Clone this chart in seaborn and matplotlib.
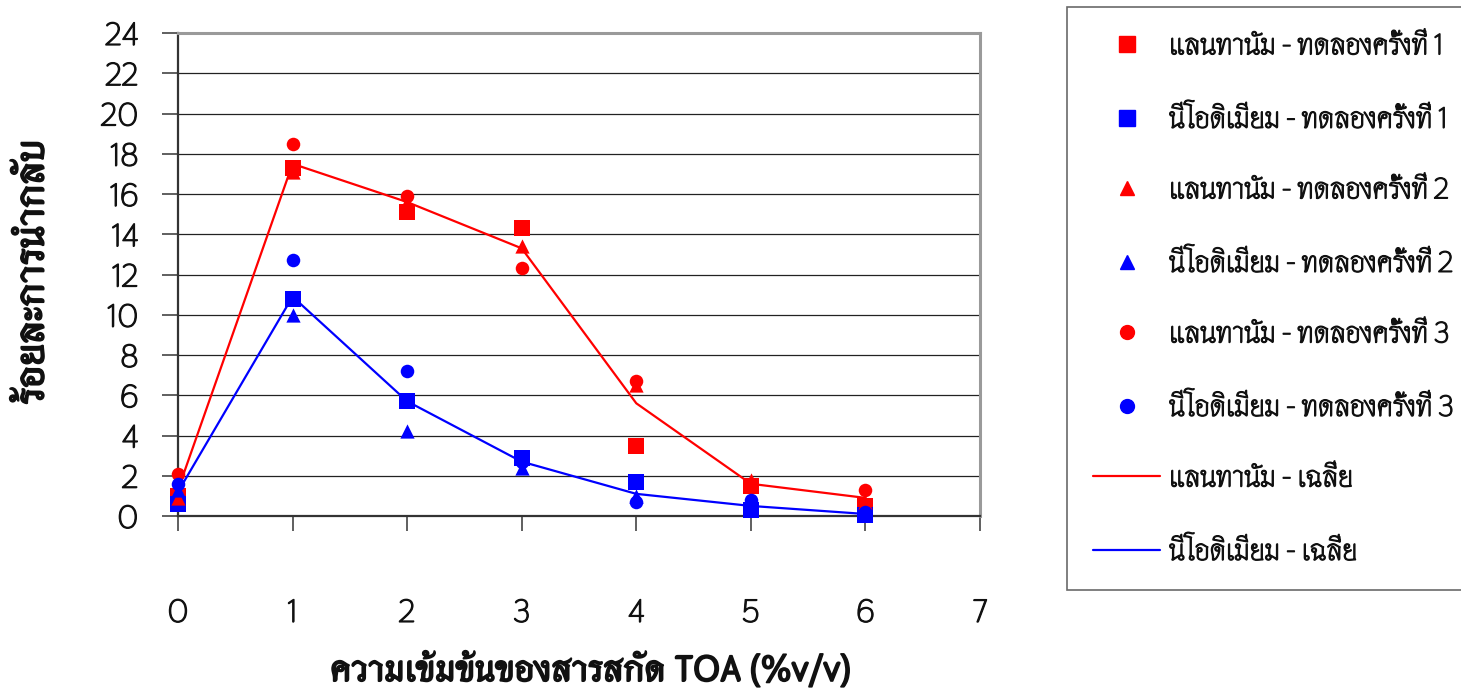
import matplotlib
matplotlib.use("Agg")
import matplotlib.pyplot as plt
import matplotlib.patheffects as pe
from matplotlib.lines import Line2D
import numpy as np
import pandas as pd
import seaborn as sns

# TOA concentration (%v/v)
toa = [0, 1, 2, 3, 4, 5, 6]

# Recovery (%) for lanthanum, three trials and the mean
la_run1 = [1.0, 17.3, 15.1, 14.3, 3.5, 1.5, 0.5]
la_run2 = [0.9, 17.1, 15.6, 13.4, 6.5, 1.8, 0.7]
la_run3 = [2.1, 18.5, 15.9, 12.3, 6.7, 1.5, 1.3]
la_mean = [1.3, 17.5, 15.6, 13.3, 5.6, 1.6, 0.9]

# Recovery (%) for neodymium, three trials and the mean
nd_run1 = [0.6, 10.8, 5.7, 2.9, 1.7, 0.3, 0.05]
nd_run2 = [1.3, 10.0, 4.2, 2.4, 1.0, 0.5, 0.1]
nd_run3 = [1.6, 12.7, 7.2, 2.7, 0.7, 0.8, 0.2]
nd_mean = [1.2, 10.9, 5.7, 2.7, 1.1, 0.5, 0.1]

label_la = "แลนทานัม"
label_nd = "นีโอดิเมียม"
label_run = "ทดลองครั้งที่"
label_mean = "เฉลี่ย"
x_title = "ความเข้มข้นของสารสกัด TOA (%v/v)"
y_title = "ร้อยละการนำกลับ"

sns.set_theme(style="white")
plt.rcParams["font.family"] = ["Thasadith", "DejaVu Sans"]

RED = "#ff0000"
BLUE = "#0000ff"
# slightly heavier strokes for the thin Thai face
thick = [pe.withStroke(linewidth=0.9, foreground="#111111")]
thick_bold = [pe.withStroke(linewidth=1.2, foreground="#111111")]

fig = plt.figure(figsize=(14.61, 6.99), dpi=100)
ax = fig.add_axes([178 / 1461, 1 - 516 / 699, 802 / 1461, 483 / 699])

# mean curves
means = pd.DataFrame({"x": toa * 2, "y": la_mean + nd_mean,
                      "metal": [label_la] * 7 + [label_nd] * 7})
sns.lineplot(data=means, x="x", y="y", hue="metal", palette=[RED, BLUE],
             linewidth=1.6, legend=False, ax=ax, zorder=3)

# individual trials
runs = [(la_run1, RED, "s", 125), (nd_run1, BLUE, "s", 125),
        (la_run2, RED, "^", 105), (nd_run2, BLUE, "^", 105),
        (la_run3, RED, "o", 95), (nd_run3, BLUE, "o", 95)]
for vals, col, mk, sz in runs:
    sns.scatterplot(x=toa, y=vals, color=col, marker=mk, s=sz, linewidth=0,
                    ax=ax, zorder=4, clip_on=False, legend=False)

ax.set_xlim(0, 7)
ax.set_ylim(0, 24)
ax.set_xticks(range(0, 8))
ax.set_yticks(range(0, 25, 2))
ax.set_xlabel("")
ax.set_ylabel("")
for y in range(2, 24, 2):
    ax.axhline(y, color="#222222", linewidth=0.9, zorder=1)

for side in ("top", "right"):
    ax.spines[side].set_color("#9a9a9a")
    ax.spines[side].set_linewidth(2.2)
for side in ("left", "bottom"):
    ax.spines[side].set_color("#333333")
    ax.spines[side].set_linewidth(1.6)

ax.tick_params(axis="y", direction="out", length=11.5, width=1.2, color="#444444",
               pad=17, labelsize=23, left=True, labelcolor="#111111")
ax.tick_params(axis="x", direction="out", length=11, width=1.2, color="#444444",
               pad=48, labelsize=23, bottom=True, labelcolor="#111111")
for t in ax.get_xticklabels() + ax.get_yticklabels():
    t.set_path_effects(thick)

fig.text(590 / 1461, 1 - 670 / 699, x_title, ha="center", va="center",
         fontsize=26, fontweight="bold", color="#111111", path_effects=thick_bold)
fig.text(33 / 1461, 1 - 272 / 699, y_title, ha="center", va="center",
         fontsize=29, fontweight="bold", rotation=90, color="#111111",
         path_effects=thick_bold)

# legend
handles = [
    Line2D([], [], linestyle="none", marker="s", color=RED, markersize=11),
    Line2D([], [], linestyle="none", marker="s", color=BLUE, markersize=11),
    Line2D([], [], linestyle="none", marker="^", color=RED, markersize=10),
    Line2D([], [], linestyle="none", marker="^", color=BLUE, markersize=10),
    Line2D([], [], linestyle="none", marker="o", color=RED, markersize=10),
    Line2D([], [], linestyle="none", marker="o", color=BLUE, markersize=10),
    Line2D([], [], color=RED, linewidth=1.6),
    Line2D([], [], color=BLUE, linewidth=1.6),
]
labels = [f"{label_la} - {label_run} 1", f"{label_nd} - {label_run} 1",
          f"{label_la} - {label_run} 2", f"{label_nd} - {label_run} 2",
          f"{label_la} - {label_run} 3", f"{label_nd} - {label_run} 3",
          f"{label_la} - {label_mean}", f"{label_nd} - {label_mean}"]
leg = fig.legend(handles, labels, loc="upper left",
                 bbox_to_anchor=(1067 / 1461, 1 - 7 / 699),
                 frameon=True, fancybox=False, fontsize=21,
                 handlelength=2.3, handletextpad=0.3, labelspacing=1.56,
                 borderpad=0.9, borderaxespad=0)
leg.get_frame().set_edgecolor("#444444")
leg.get_frame().set_linewidth(1.2)
for t in leg.get_texts():
    t.set_color("#111111")
    t.set_path_effects(thick)

fig.savefig("out.png", dpi=100)
